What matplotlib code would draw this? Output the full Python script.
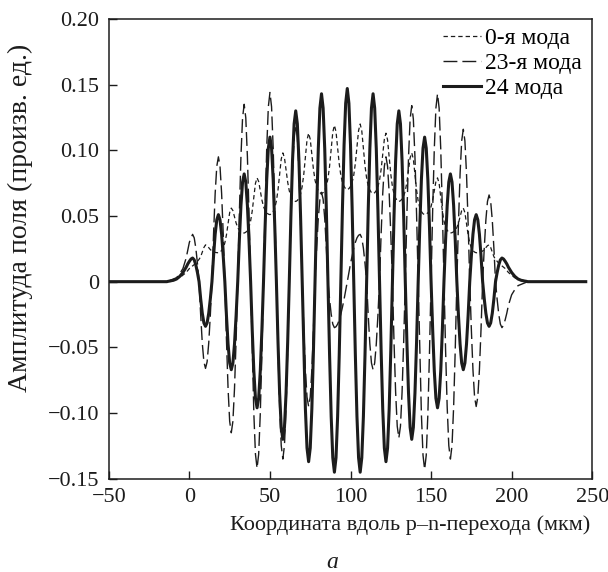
import matplotlib
matplotlib.use("Agg")
import matplotlib.pyplot as plt

plt.rcParams["font.family"] = ["Liberation Serif", "DejaVu Serif"]

# coordinate along the p-n junction, um: flat ends plus 1 um samples over the active region
X_UM = [-50] + list(range(-14, 211)) + [246]

# values, one row = 8 um, rows start at x = -14, -6, 2, 10, ...
MODE_0 = [0,
          0, 0.0003, 0.0005, 0.0008, 0.001, 0.0015, 0.002, 0.0025,
          0.003, 0.004, 0.005, 0.006, 0.007, 0.0085, 0.010, 0.011,
          0.012, 0.013, 0.014, 0.0155, 0.017, 0.019, 0.0225, 0.026,
          0.028, 0.0274, 0.0259, 0.0244, 0.0233, 0.0227, 0.0223, 0.0221,
          0.022, 0.0225, 0.0237, 0.0257, 0.0295, 0.0356, 0.0441, 0.0526,
          0.056, 0.0541, 0.0494, 0.0446, 0.0412, 0.0391, 0.038, 0.0373,
          0.037, 0.0376, 0.0391, 0.0416, 0.0462, 0.0538, 0.0643, 0.0748,
          0.079, 0.0762, 0.0692, 0.0622, 0.0572, 0.0541, 0.0524, 0.0514,
          0.051, 0.0517, 0.0534, 0.0562, 0.0613, 0.0698, 0.0816, 0.0933,
          0.098, 0.0943, 0.0851, 0.0758, 0.0691, 0.0651, 0.0629, 0.0616,
          0.061, 0.0618, 0.0636, 0.0667, 0.0724, 0.0818, 0.0948, 0.1078,
          0.113, 0.1084, 0.0969, 0.0854, 0.0771, 0.0721, 0.0693, 0.0677,
          0.067, 0.0678, 0.0696, 0.0727, 0.0784, 0.0878, 0.1008, 0.1138,
          0.119, 0.1141, 0.1019, 0.0896, 0.0808, 0.0754, 0.0725, 0.0707,
          0.070, 0.0708, 0.0725, 0.0755, 0.081, 0.090, 0.1025, 0.115,
          0.120, 0.1147, 0.1015, 0.0882, 0.0787, 0.0728, 0.0697, 0.0678,
          0.067, 0.0677, 0.0693, 0.0721, 0.0771, 0.0854, 0.0969, 0.1084,
          0.113, 0.1078, 0.0948, 0.0818, 0.0724, 0.0667, 0.0636, 0.0618,
          0.061, 0.0616, 0.0629, 0.0651, 0.0691, 0.0758, 0.0851, 0.0943,
          0.098, 0.0933, 0.0816, 0.0698, 0.0613, 0.0562, 0.0534, 0.0517,
          0.051, 0.0514, 0.0524, 0.0541, 0.0572, 0.0622, 0.0692, 0.0762,
          0.079, 0.0748, 0.0643, 0.0538, 0.0462, 0.0416, 0.0391, 0.0376,
          0.037, 0.0373, 0.038, 0.0391, 0.0412, 0.0446, 0.0494, 0.0541,
          0.056, 0.0526, 0.0441, 0.0356, 0.0295, 0.0257, 0.0237, 0.0225,
          0.022, 0.0221, 0.0223, 0.0227, 0.0233, 0.0244, 0.0259, 0.0274,
          0.028, 0.026, 0.0225, 0.019, 0.017, 0.0155, 0.014, 0.013,
          0.012, 0.011, 0.010, 0.0085, 0.007, 0.006, 0.005, 0.004,
          0.003, 0.0025, 0.002, 0.0015, 0.001, 0.0008, 0.0005, 0.0003,
          0, 0]

MODE_23 = [0,
           0, 0.0005, 0.001, 0.0015, 0.002, 0.0025, 0.003, 0.0045,
           0.006, 0.008, 0.010, 0.014, 0.018, 0.024, 0.030, 0.0333,
           0.036, 0.0333, 0.0255, 0.0138, 0, -0.0253, -0.0467, -0.061,
           -0.066, -0.061, -0.0467, -0.0253, 0, 0.0364, 0.0672, 0.0878,
           0.095, 0.0878, 0.0672, 0.0364, 0, -0.044, -0.0813, -0.1063,
           -0.115, -0.1063, -0.0813, -0.044, 0, 0.0517, 0.0954, 0.1247,
           0.135, 0.1247, 0.0954, 0.0517, 0, -0.0544, -0.1004, -0.1312,
           -0.142, -0.1312, -0.1004, -0.0544, 0, 0.0552, 0.1018, 0.1331,
           0.144, 0.1331, 0.1018, 0.0552, 0, -0.0517, -0.0954, -0.1247,
           -0.135, -0.1247, -0.0954, -0.0517, 0, 0.0456, 0.0841, 0.110,
           0.119, 0.110, 0.0841, 0.0456, 0, -0.0364, -0.0672, -0.0878,
           -0.095, -0.0878, -0.0672, -0.0364, 0, 0.026, 0.0481, 0.0628,
           0.068, 0.0628, 0.0481, 0.026, 0, -0.0134, -0.0247, -0.0323,
           -0.035, -0.0343, -0.0323, -0.0291, -0.0247, -0.0194, -0.0134, -0.0068,
           0, 0.007, 0.0137, 0.0198, 0.0255, 0.0299, 0.0333, 0.0353,
           0.036, 0.0333, 0.0255, 0.0138, 0, -0.0257, -0.0474, -0.0619,
           -0.067, -0.0619, -0.0474, -0.0257, 0, 0.0364, 0.0672, 0.0878,
           0.095, 0.0878, 0.0672, 0.0364, 0, -0.0456, -0.0841, -0.110,
           -0.119, -0.110, -0.0841, -0.0456, 0, 0.0513, 0.0947, 0.1238,
           0.134, 0.1238, 0.0947, 0.0513, 0, -0.0548, -0.1011, -0.1321,
           -0.143, -0.1321, -0.1011, -0.0548, 0, 0.0548, 0.1011, 0.1321,
           0.143, 0.1321, 0.1011, 0.0548, 0, -0.0517, -0.0954, -0.1247,
           -0.135, -0.1247, -0.0954, -0.0517, 0, 0.0444, 0.082, 0.1072,
           0.116, 0.1072, 0.082, 0.0444, 0, -0.0364, -0.0672, -0.0878,
           -0.095, -0.0878, -0.0672, -0.0364, 0, 0.0253, 0.0467, 0.061,
           0.066, 0.061, 0.0467, 0.0253, 0, -0.0134, -0.0247, -0.0323,
           -0.035, -0.033, -0.029, -0.024, -0.018, -0.014, -0.010, -0.008,
           -0.006, -0.0045, -0.003, -0.0025, -0.002, -0.0015, -0.001, -0.0005,
           0, 0]

MODE_24 = [0,
           0, 0.0003, 0.0005, 0.0008, 0.001, 0.0015, 0.002, 0.003,
           0.004, 0.0055, 0.007, 0.009, 0.011, 0.0135, 0.0155, 0.0172,
           0.018, 0.0166, 0.0127, 0.0069, 0, -0.013, -0.024, -0.0314,
           -0.034, -0.0314, -0.024, -0.013, 0, 0.0195, 0.0361, 0.0471,
           0.051, 0.0471, 0.0361, 0.0195, 0, -0.0257, -0.0474, -0.0619,
           -0.067, -0.0619, -0.0474, -0.0257, 0, 0.0314, 0.058, 0.0758,
           0.082, 0.0758, 0.058, 0.0314, 0, -0.0368, -0.0679, -0.0887,
           -0.096, -0.0887, -0.0679, -0.0368, 0, 0.0421, 0.0778, 0.1016,
           0.110, 0.1016, 0.0778, 0.0421, 0, -0.046, -0.0848, -0.1109,
           -0.120, -0.1109, -0.0848, -0.046, 0, 0.0498, 0.0919, 0.1201,
           0.130, 0.1201, 0.0919, 0.0498, 0, -0.0525, -0.0969, -0.1266,
           -0.137, -0.1266, -0.0969, -0.0525, 0, 0.0548, 0.1011, 0.1321,
           0.143, 0.1321, 0.1011, 0.0548, 0, -0.0555, -0.1025, -0.134,
           -0.145, -0.134, -0.1025, -0.0555, 0, 0.0563, 0.1039, 0.1358,
           0.147, 0.1358, 0.1039, 0.0563, 0, -0.0555, -0.1025, -0.134,
           -0.145, -0.134, -0.1025, -0.0555, 0, 0.0548, 0.1011, 0.1321,
           0.143, 0.1321, 0.1011, 0.0548, 0, -0.0525, -0.0969, -0.1266,
           -0.137, -0.1266, -0.0969, -0.0525, 0, 0.0498, 0.0919, 0.1201,
           0.130, 0.1201, 0.0919, 0.0498, 0, -0.046, -0.0848, -0.1109,
           -0.120, -0.1109, -0.0848, -0.046, 0, 0.0421, 0.0778, 0.1016,
           0.110, 0.1016, 0.0778, 0.0421, 0, -0.0368, -0.0679, -0.0887,
           -0.096, -0.0887, -0.0679, -0.0368, 0, 0.0314, 0.058, 0.0758,
           0.082, 0.0758, 0.058, 0.0314, 0, -0.0257, -0.0474, -0.0619,
           -0.067, -0.0619, -0.0474, -0.0257, 0, 0.0195, 0.0361, 0.0471,
           0.051, 0.0471, 0.0361, 0.0195, 0, -0.013, -0.024, -0.0314,
           -0.034, -0.0314, -0.024, -0.013, 0, 0.0069, 0.0127, 0.0166,
           0.018, 0.0172, 0.0155, 0.0135, 0.011, 0.009, 0.007, 0.0055,
           0.004, 0.003, 0.002, 0.0015, 0.001, 0.0008, 0.0005, 0.0003,
           0, 0]

X_TICKS = [-50, 0, 50, 100, 150, 200, 250]
X_TICK_LABELS = ["\u221250", "0", "50", "100", "150", "200", "250"]
Y_TICKS = [-0.15, -0.10, -0.05, 0, 0.05, 0.10, 0.15, 0.20]
Y_TICK_LABELS = ["\u22120.15", "\u22120.10", "\u22120.05", "0", "0.05", "0.10", "0.15", "0.20"]
LEGEND_LABELS = ["0-я мода", "23-я мода", "24 мода"]

INK = "#1c1c1c"

fig = plt.figure(figsize=(6.08, 5.72), dpi=100)
ax = fig.add_axes([0.179, 0.163, 0.795, 0.804])

ax.plot(X_UM, MODE_0, color=INK, lw=0.9, dashes=(3.5, 2.4), label=LEGEND_LABELS[0], zorder=2)
ax.plot(X_UM, MODE_23, color=INK, lw=1.0, dashes=(10, 3.6), label=LEGEND_LABELS[1], zorder=4)
ax.plot(X_UM, MODE_24, color=INK, lw=2.2, label=LEGEND_LABELS[2], zorder=3)

ax.set_xlim(-50, 250)
ax.set_ylim(-0.15, 0.20)
ax.set_xticks(X_TICKS)
ax.set_xticklabels(X_TICK_LABELS)
ax.set_yticks(Y_TICKS)
ax.set_yticklabels(Y_TICK_LABELS)
ax.tick_params(direction="in", length=6, width=1, labelsize=16, pad=7, colors=INK)
for spine in ax.spines.values():
    spine.set_linewidth(1.1)
    spine.set_color(INK)

ax.set_xlabel("Координата вдоль p\u2013n-перехода (мкм)", fontsize=16, color=INK)
ax.xaxis.set_label_coords(0.623, -0.079)
ax.set_ylabel("Амплитуда поля (произв. ед.)", fontsize=20, color=INK)
ax.yaxis.set_label_coords(-0.157, 0.567)
fig.text(0.546, 0.016, "а", fontsize=17, style="italic", ha="center", va="center", color=INK)

ax.legend(loc="upper right", bbox_to_anchor=(0.979, 0.981), frameon=False, fontsize=17,
          handlelength=1.6, handletextpad=0.2, labelspacing=0.15, borderpad=0,
          borderaxespad=0)

fig.savefig("out.png", dpi=100)
